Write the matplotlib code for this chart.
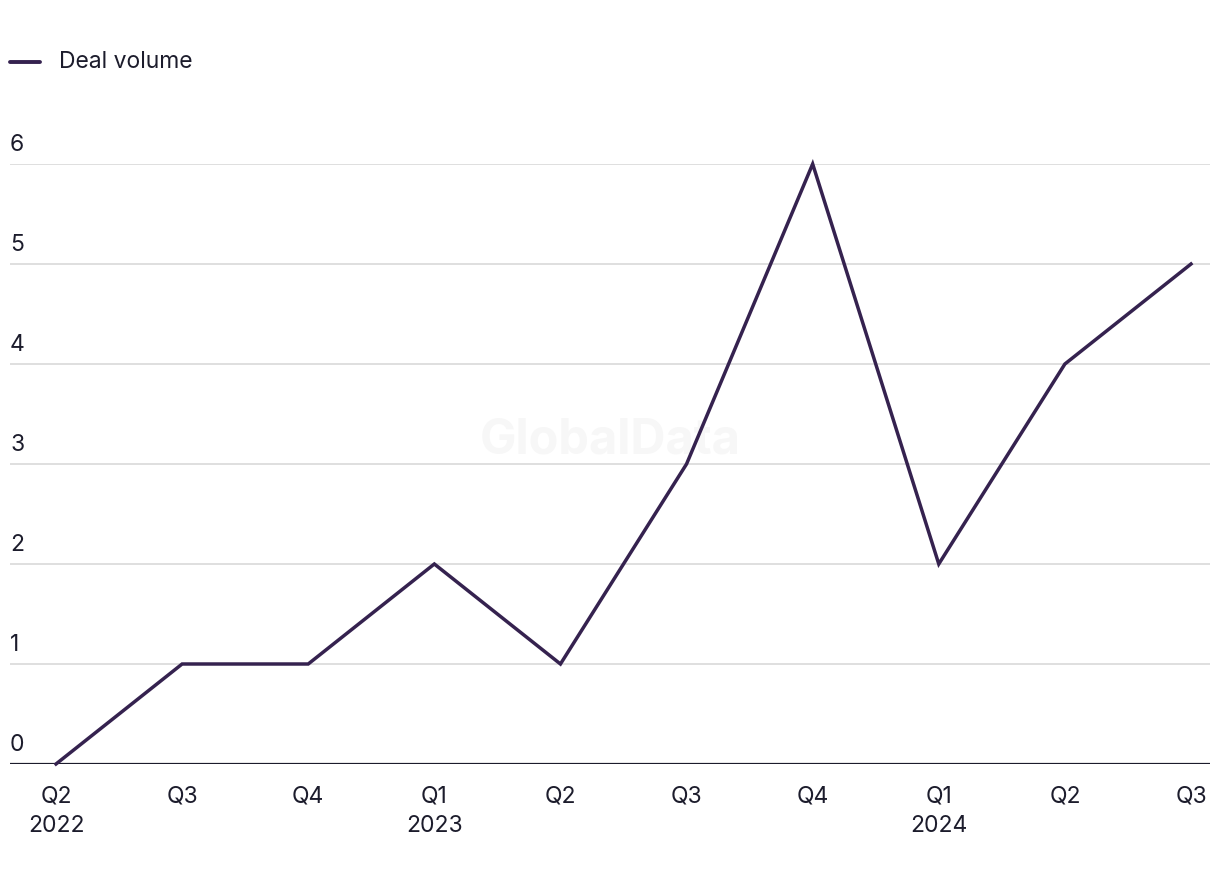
import matplotlib.pyplot as plt
from matplotlib.transforms import blended_transform_factory

quarters = ['Q2', 'Q3', 'Q4', 'Q1', 'Q2', 'Q3', 'Q4', 'Q1', 'Q2', 'Q3']
years = ['2022', '', '', '2023', '', '', '', '2024', '', '']
deal_volume = [0, 1, 1, 2, 1, 3, 6, 2, 4, 5]
y_ticks = [0, 1, 2, 3, 4, 5, 6]

line_color = '#35224f'
text_color = '#1c1c2c'
fs = 16.5
plt.rcParams['font.family'] = ['Inter', 'DejaVu Sans']

fig = plt.figure(figsize=(12.2, 8.84), dpi=100)
ax = fig.add_axes([10 / 1220, 120 / 884, 1200 / 1220, 600 / 884])

x = list(range(len(deal_volume)))
ax.plot(x, deal_volume, color=line_color, linewidth=2.5, clip_on=False, zorder=3,
        solid_joinstyle='miter')
step = 1135 / 9
ax.set_xlim(-46 / step, 9 + 19 / step)
ax.set_ylim(0, 6)

for v in y_ticks[1:]:
    ax.axhline(v, color='#d9d9d9', linewidth=1.2, zorder=1)
ax.axhline(0, color=text_color, linewidth=1.6, zorder=2)

trans = blended_transform_factory(ax.transAxes, ax.transData)
for v in y_ticks:
    ax.text(0, v + 0.08, str(v), transform=trans, ha='left', va='bottom',
            fontsize=fs, color=text_color)

for i, (q, yr) in enumerate(zip(quarters, years)):
    ax.text(i, -0.32, q, ha='center', va='center', fontsize=fs, color=text_color)
    if yr:
        ax.text(i, -0.62, yr, ha='center', va='center', fontsize=fs, color=text_color)

ax.text(0.5, 1 - 440 / 884, 'GlobalData', transform=fig.transFigure, ha='center',
        va='center', fontsize=35, fontweight='bold', color='#f7f7f7', zorder=0)

# legend drawn by hand
fig.add_artist(plt.Line2D([10 / 1220, 40 / 1220], [1 - 62 / 884, 1 - 62 / 884],
                          color=line_color, linewidth=2.8, solid_capstyle='round'))
fig.text(59 / 1220, 1 - 62 / 884, 'Deal volume', ha='left', va='center',
         fontsize=fs, color=text_color)

ax.set_xticks([])
ax.set_yticks([])
for s in ax.spines.values():
    s.set_visible(False)

fig.savefig('out.png', dpi=100)
